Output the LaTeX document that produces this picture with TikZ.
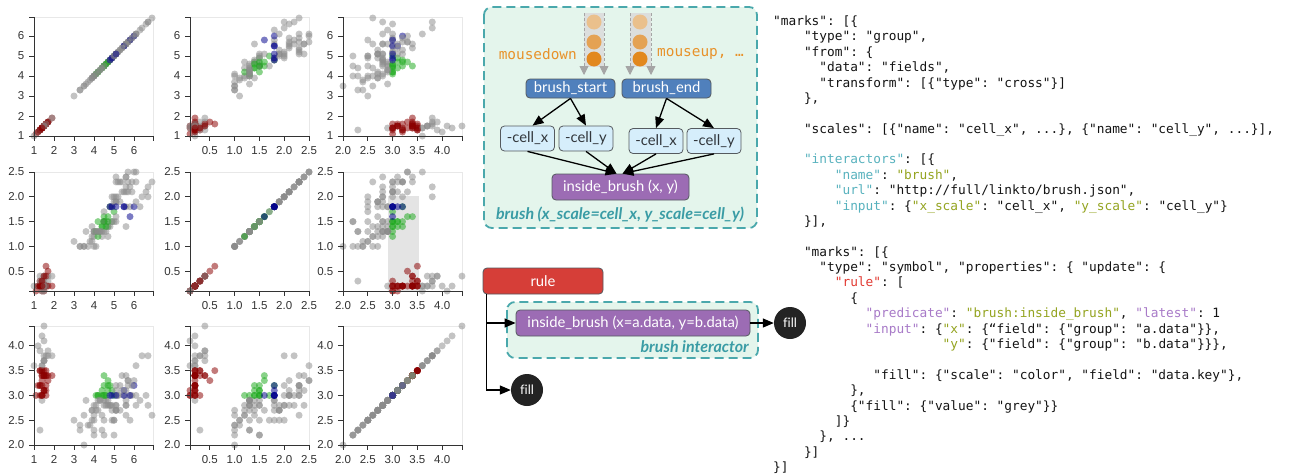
\documentclass[tikz,border=0pt]{standalone}
\usepackage{fontspec}
\setmainfont{Lato}
\setsansfont{Liberation Sans}
\setmonofont{DejaVu Sans Mono}
\newfontfamily\nolig[Ligatures=NoCommon]{Lato}
\usetikzlibrary{arrows.meta,calc}
\definecolor{tealc}{RGB}{74,168,172}
\definecolor{tealt}{RGB}{58,156,165}
\definecolor{mintc}{RGB}{228,245,236}
\definecolor{bluec}{RGB}{80,128,188}
\definecolor{cellc}{RGB}{214,238,251}
\definecolor{purpc}{RGB}{156,108,180}
\definecolor{rulec}{RGB}{214,62,56}
\definecolor{fillc}{RGB}{35,35,35}
\definecolor{nodebd}{RGB}{85,90,95}
\definecolor{celltxt}{RGB}{50,55,60}
\definecolor{orangec}{RGB}{232,146,42}
\definecolor{evA}{RGB}{234,192,140}
\definecolor{evB}{RGB}{228,162,84}
\definecolor{evC}{RGB}{226,136,30}
\definecolor{streamc}{RGB}{220,222,221}
\definecolor{sedgec}{RGB}{165,165,165}
\definecolor{sp0}{RGB}{139,0,0}
\definecolor{sp1}{RGB}{30,170,30}
\definecolor{sp2}{RGB}{0,0,140}
\definecolor{spg}{RGB}{140,140,140}
\definecolor{framecol}{RGB}{232,232,232}
\definecolor{axiscol}{RGB}{51,51,51}
\definecolor{brushc}{RGB}{228,228,228}
\definecolor{ck}{RGB}{88,178,190}
\definecolor{cv}{RGB}{148,164,32}
\definecolor{cr}{RGB}{226,58,50}
\definecolor{cp}{RGB}{168,122,200}
\definecolor{codec}{RGB}{20,20,20}
\tikzset{
  framest/.style={draw=framecol, line width=1pt},
  axisst/.style={draw=axiscol, line width=1pt},
  tlab/.style={font=\sffamily\fontsize{11.5}{13}\selectfont, text=axiscol, inner sep=1.2pt},
  dbox/.style={draw=tealc, line width=1.8pt, dash pattern=on 9pt off 5pt, fill=mintc, rounded corners=8pt},
  nbase/.style={draw=nodebd, line width=0.8pt, rounded corners=4pt, inner sep=0pt, align=center, font=\fontsize{14.8}{16}\selectfont},
  bluen/.style={nbase, fill=bluec, text=white, minimum width=89pt, minimum height=19pt},
  celln/.style={nbase, fill=cellc, text=celltxt, minimum width=54pt, minimum height=25pt},
  purpn/.style={nbase, fill=purpc, text=white, minimum height=26pt},
  rulen/.style={nbase, fill=rulec, text=white, minimum width=120pt, minimum height=26pt},
  filln/.style={circle, fill=fillc, text=white, minimum size=32pt, inner sep=0pt, font=\nolig\fontsize{13}{14}\selectfont},
  conn/.style={draw=black, line width=1.3pt, -{Triangle[length=11pt,width=9pt]}},
  sedge/.style={draw=sedgec, line width=0.8pt, dash pattern=on 3pt off 2pt, -{Triangle[length=9pt,width=9pt,fill=sedgec]}},
  evtext/.style={font=\ttfamily\fontsize{14.4}{16}\selectfont, text=orangec, inner sep=0pt},
  dlabel/.style={font=\bfseries\itshape\fontsize{16}{18}\selectfont, text=tealt, inner sep=0pt},
  codeline/.style={anchor=base west, inner sep=0pt, font=\ttfamily\fontsize{12.8}{15}\selectfont, text=codec},
}
\newcommand\xtk[3]{\foreach \u/\t in #3 {\draw[axisst] (#1+\u,#2) -- (#1+\u,#2+5) node[tlab,below=4pt] {\t};}}
\newcommand\ytk[3]{\foreach \u/\t in #3 {\draw[axisst] (#1,#2-\u) -- (#1-5,#2-\u) node[tlab,left=3pt] {\t};}}
\newcommand\cl[3]{\node[codeline] at (773+#1*7.706, 25.5+#2*15.38) {#3};}
\def\tkA{0/1,20/2,40/3,60/4,80/5,100/6}
\def\tkB{19.83/0.5,44.62/1.0,69.41/1.5,94.2/2.0,119/2.5}
\def\tkC{0/2.0,24.79/2.5,49.58/3.0,74.37/3.5,99.16/4.0}
\def\irisdata{3.5/1.4/0.2/0, 3.0/1.4/0.2/0, 3.2/1.3/0.2/0, 3.1/1.5/0.2/0, 3.6/1.4/0.2/0, 3.9/1.7/0.4/0, 3.4/1.4/0.3/0, 3.4/1.5/0.2/0, 2.9/1.4/0.2/0, 3.1/1.5/0.1/0, 3.7/1.5/0.2/0, 3.4/1.6/0.2/0, 3.0/1.4/0.1/0, 3.0/1.1/0.1/0, 4.0/1.2/0.2/0, 4.4/1.5/0.4/0, 3.9/1.3/0.4/0, 3.5/1.4/0.3/0, 3.8/1.7/0.3/0, 3.8/1.5/0.3/0, 3.4/1.7/0.2/0, 3.7/1.5/0.4/0, 3.6/1.0/0.2/0, 3.3/1.7/0.5/0, 3.4/1.9/0.2/0, 3.0/1.6/0.2/0, 3.4/1.6/0.4/0, 3.5/1.5/0.2/0, 3.4/1.4/0.2/0, 3.2/1.6/0.2/0, 3.1/1.6/0.2/0, 3.4/1.5/0.4/0, 4.1/1.5/0.1/0, 4.2/1.4/0.2/0, 3.1/1.5/0.2/0, 3.2/1.2/0.2/0, 3.5/1.3/0.2/0, 3.6/1.4/0.1/0, 3.0/1.3/0.2/0, 3.4/1.5/0.2/0, 3.5/1.3/0.3/0, 2.3/1.3/0.3/0, 3.2/1.3/0.2/0, 3.5/1.6/0.6/0, 3.8/1.9/0.4/0, 3.0/1.4/0.3/0, 3.8/1.6/0.2/0, 3.2/1.4/0.2/0, 3.7/1.5/0.2/0, 3.3/1.4/0.2/0,
3.2/4.7/1.4/1, 3.2/4.5/1.5/1, 3.1/4.9/1.5/1, 2.3/4.0/1.3/1, 2.8/4.6/1.5/1, 2.8/4.5/1.3/1, 3.3/4.7/1.6/1, 2.4/3.3/1.0/1, 2.9/4.6/1.3/1, 2.7/3.9/1.4/1, 2.0/3.5/1.0/1, 3.0/4.2/1.5/1, 2.2/4.0/1.0/1, 2.9/4.7/1.4/1, 2.9/3.6/1.3/1, 3.1/4.4/1.4/1, 3.0/4.5/1.5/1, 2.7/4.1/1.0/1, 2.2/4.5/1.5/1, 2.5/3.9/1.1/1, 3.2/4.8/1.8/1, 2.8/4.0/1.3/1, 2.5/4.9/1.5/1, 2.8/4.7/1.2/1, 2.9/4.3/1.3/1, 3.0/4.4/1.4/1, 2.8/4.8/1.4/1, 3.0/5.0/1.7/1, 2.9/4.5/1.5/1, 2.6/3.5/1.0/1, 2.4/3.8/1.1/1, 2.4/3.7/1.0/1, 2.7/3.9/1.2/1, 2.7/5.1/1.6/1, 3.0/4.5/1.5/1, 3.4/4.5/1.6/1, 3.1/4.7/1.5/1, 2.3/4.4/1.3/1, 3.0/4.1/1.3/1, 2.5/4.0/1.3/1, 2.6/4.4/1.2/1, 3.0/4.6/1.4/1, 2.6/4.0/1.2/1, 2.3/3.3/1.0/1, 2.7/4.2/1.3/1, 3.0/4.2/1.2/1, 2.9/4.2/1.3/1, 2.9/4.3/1.3/1, 2.5/3.0/1.1/1, 2.8/4.1/1.3/1,
3.3/6.0/2.5/2, 2.7/5.1/1.9/2, 3.0/5.9/2.1/2, 2.9/5.6/1.8/2, 3.0/5.8/2.2/2, 3.0/6.6/2.1/2, 2.5/4.5/1.7/2, 2.9/6.3/1.8/2, 2.5/5.8/1.8/2, 3.6/6.1/2.5/2, 3.2/5.1/2.0/2, 2.7/5.3/1.9/2, 3.0/5.5/2.1/2, 2.5/5.0/2.0/2, 2.8/5.1/2.4/2, 3.2/5.3/2.3/2, 3.0/5.5/1.8/2, 3.8/6.7/2.2/2, 2.6/6.9/2.3/2, 2.2/5.0/1.5/2, 3.2/5.7/2.3/2, 2.8/4.9/2.0/2, 2.8/6.7/2.0/2, 2.7/4.9/1.8/2, 3.3/5.7/2.1/2, 3.2/6.0/1.8/2, 2.8/4.8/1.8/2, 3.0/4.9/1.8/2, 2.8/5.6/2.1/2, 3.0/5.8/1.6/2, 2.8/6.1/1.9/2, 3.8/6.4/2.0/2, 2.8/5.6/2.2/2, 2.8/5.1/1.5/2, 2.6/5.6/1.4/2, 3.0/6.1/2.3/2, 3.4/5.6/2.4/2, 3.1/5.5/1.8/2, 3.0/4.8/1.8/2, 3.1/5.4/2.1/2, 3.1/5.6/2.4/2, 3.1/5.1/2.3/2, 2.7/5.1/1.9/2, 3.2/5.9/2.3/2, 3.3/5.7/2.5/2, 3.0/5.2/2.3/2, 2.5/5.0/1.9/2, 3.0/5.2/2.0/2, 3.4/5.4/2.3/2, 3.0/5.1/1.8/2}
\begin{document}
\begin{tikzpicture}[x=1pt,y=-1pt]
\useasboundingbox[fill=white] (0,0) rectangle (1300,474);
% ================= scatter plot matrix =================
\fill[brushc] (388,196) rectangle (419,291);
\foreach \cx in {34,190,343}{\foreach \ry in {136,291,445}{%
  \draw[framest] (\cx,\ry-119) rectangle (\cx+119,\ry);}}
\foreach \sw/\pl/\pw/\sp in \irisdata {
  \pgfmathsetmacro\ua{(\pl-1)*20}
  \pgfmathsetmacro\ub{(\pw-0.1)*49.58}
  \pgfmathsetmacro\uc{(\sw-2.0)*49.58}
  \pgfmathtruncatemacro\inb{(\sw>2.95)*(\sw<3.55)*(\pw<1.95)}
  \ifnum\inb=1 \edef\pc{sp\sp}\else\def\pc{spg}\fi
  \foreach \cx/\ux in {34/\ua,190/\ub,343/\uc}{\foreach \ry/\uy in {136/\ua,291/\ub,445/\uc}{%
    \fill[fill=\pc, fill opacity=0.52] (\cx+\ux,\ry-\uy) circle[radius=3.5];}}
}
\foreach \cx in {34,190,343}{\foreach \ry in {136,291,445}{%
  \draw[axisst] (\cx-5,\ry-119) -- (\cx,\ry-119) -- (\cx,\ry) -- (\cx+119,\ry) -- (\cx+119,\ry+5);
  \draw[axisst] (\cx,\ry) -- (\cx,\ry+5);
  \draw[axisst] (\cx,\ry) -- (\cx-5,\ry);}}
\xtk{34}{136}{\tkA}\xtk{190}{136}{\tkB}\xtk{343}{136}{\tkC}
\xtk{34}{291}{\tkA}\xtk{190}{291}{\tkB}\xtk{343}{291}{\tkC}
\xtk{34}{445}{\tkA}\xtk{190}{445}{\tkB}\xtk{343}{445}{\tkC}
\ytk{34}{136}{\tkA}\ytk{190}{136}{\tkA}\ytk{343}{136}{\tkA}
\ytk{34}{291}{\tkB}\ytk{190}{291}{\tkB}\ytk{343}{291}{\tkB}
\ytk{34}{445}{\tkC}\ytk{190}{445}{\tkC}\ytk{343}{445}{\tkC}
% ================= brush interactor =================
\draw[dbox] (484,7) rectangle (757,228);
\fill[streamc] (584,13) rectangle (604,67);
\fill[streamc] (630,13) rectangle (651,67);
\coordinate (s1a) at (584,13); \coordinate (s1b) at (584,75);
\coordinate (s2a) at (604,13); \coordinate (s2b) at (604,75);
\coordinate (s3a) at (630,13); \coordinate (s3b) at (630,75);
\coordinate (s4a) at (651,13); \coordinate (s4b) at (651,75);
\draw[sedge] (s1a) -- (s1b); \draw[sedge] (s2a) -- (s2b);
\draw[sedge] (s3a) -- (s3b); \draw[sedge] (s4a) -- (s4b);
\fill[evA] (594,22) circle[radius=7.5]; \fill[evB] (594,42) circle[radius=7.5]; \fill[evC] (594,59) circle[radius=7.5];
\fill[evA] (640,22) circle[radius=7.5]; \fill[evB] (640,42) circle[radius=7.5]; \fill[evC] (640,59) circle[radius=7.5];
\node[evtext, anchor=east] (md) at (577,54) {mousedown};
\node[evtext, anchor=west] (mu) at (657,54) {mouseup, …};
\node[bluen] (bs) at (570.5,88.5) {brush\_start};
\node[bluen] (be) at (666.5,88.5) {brush\_end};
\node[celln] (cx1) at (527.5,138.5) {-cell\_x};
\node[celln] (cy1) at (586,138.5) {-cell\_y};
\node[celln] (cx2) at (656,141) {-cell\_x};
\node[celln] (cy2) at (714,141) {-cell\_y};
\node[purpn, minimum width=137pt] (ib) at (620.5,187) {inside\_brush (x, y)};
\node[dlabel] (blab) at (620,215) {brush (x\_scale=cell\_x, y\_scale=cell\_y)};
\draw[conn] (bs.south) -- ([xshift=5pt]cx1.north);
\draw[conn] (bs.south) -- (cy1.north);
\draw[conn] (be.south) -- (cx2.north);
\draw[conn] (be.south) -- (cy2.north);
\draw[conn] (cx1.south) -- ([xshift=-4pt]ib.north);
\draw[conn] (cy1.south) -- ([xshift=-4pt]ib.north);
\draw[conn] (cx2.south) -- ([xshift=2pt]ib.north);
\draw[conn] (cy2.south) -- ([xshift=2pt]ib.north);
% ================= rule =================
\draw[dbox] (507,302) rectangle (758,358);
\node[rulen] (rule) at (543,281) {rule};
\node[purpn, minimum width=234pt] (ib2) at (633,323) {inside\_brush (x=a.data, y=b.data)};
\node[dlabel, anchor=base east] (ilab) at (749,352) {brush interactor};
\node[filln] (f1) at (790,323) {fill};
\node[filln] (f2) at (527,390) {fill};
\coordinate (rv) at ([xshift=4pt]rule.south west);
\draw[conn] (rv) |- (ib2.west);
\draw[conn] (rv) |- (f2.west);
\draw[conn] (ib2.east) -- (f1.west);
% ================= code =================
\cl{0}{0}{"marks": [\{}
\cl{4}{1}{"type": "group",}
\cl{4}{2}{"from": \{}
\cl{6}{3}{"data": "fields",}
\cl{6}{4}{"transform": [\{"type": "cross"\}]}
\cl{4}{5}{\},}
\cl{4}{7}{"scales": [\{"name": "cell\_x", ...\}, \{"name": "cell\_y", ...\}],}
\cl{4}{9}{\textcolor{ck}{"interactors"}: [\{}
\cl{8}{10}{\textcolor{ck}{"name"}: \textcolor{cv}{"brush"},}
\cl{8}{11}{\textcolor{ck}{"url"}: "http://full/linkto/brush.json",}
\cl{8}{12}{\textcolor{ck}{"input"}: \{\textcolor{cv}{"x\_scale"}: "cell\_x", \textcolor{cv}{"y\_scale"}: "cell\_y"\}}
\cl{4}{13}{\}],}
\cl{4}{15}{"marks": [\{}
\cl{6}{16}{"type": "symbol", "properties": \{ "update": \{}
\cl{8}{17}{\textcolor{cr}{"rule"}: [}
\cl{10}{18}{\{}
\cl{12}{19}{\textcolor{cp}{"predicate"}: \textcolor{cv}{"brush:inside\_brush"}, \textcolor{cp}{"latest"}: 1}
\cl{12}{20}{\textcolor{cp}{"input"}: \{\textcolor{cv}{"x"}: \{“field": \{"group": "a.data"\}\},}
\cl{22}{21}{\textcolor{cv}{"y"}: \{"field": \{"group": "b.data"\}\}\},}
\cl{13}{23}{"fill": \{"scale": "color", "field": "data.key"\},}
\cl{10}{24}{\},}
\cl{10}{25}{\{"fill": \{"value": "grey"\}\}}
\cl{8}{26}{]\}}
\cl{6}{27}{\}, ...}
\cl{4}{28}{\}]}
\cl{0}{29}{\}]}
\end{tikzpicture}
\end{document}
